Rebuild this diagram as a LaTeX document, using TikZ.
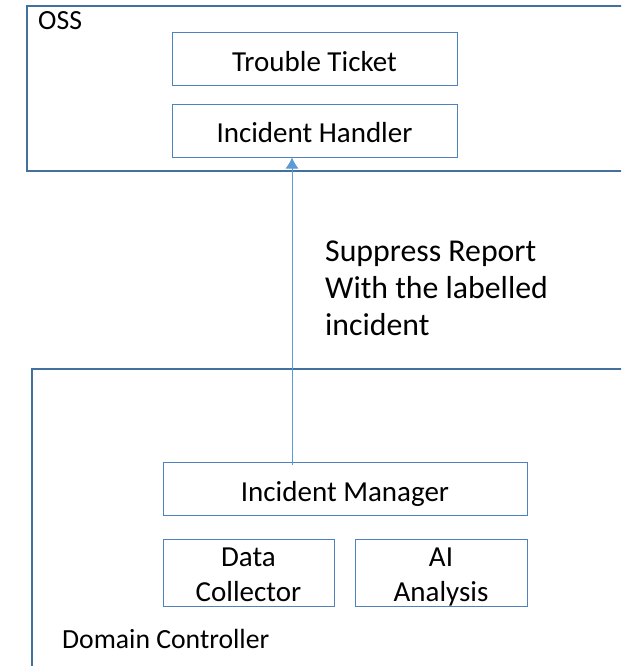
\documentclass[tikz,border=0pt]{standalone}
\usepackage{fontspec}
\setmainfont{Carlito}
\usetikzlibrary{arrows.meta}
\definecolor{outerblue}{HTML}{41719C}
\definecolor{innerblue}{HTML}{4F81BD}
\definecolor{arrowblue}{HTML}{5B9BD5}
\begin{document}
\begin{tikzpicture}[x=1pt,y=-1pt,
  outerbox/.style={draw=outerblue,line width=2.6pt},
  innerbox/.style={draw=innerblue,line width=1pt,fill=white,inner sep=0pt},
  boxtext/.style={anchor=base,inner sep=0pt,font=\fontsize{29}{35}\selectfont},
  lbl/.style={anchor=base west,inner sep=0pt,font=\fontsize{27.7}{33}\selectfont},
  sup/.style={anchor=base west,inner sep=0pt,font=\fontsize{31.8}{37.5}\selectfont},
  conn/.style={draw=arrowblue,line width=0.9pt,-{Latex[length=11pt,width=13pt]}}]
\useasboundingbox (0,0) rectangle (621,666);
\clip (0,0) rectangle (621,666);
\fill[white] (0,0) rectangle (621,666);
% OSS
\draw[outerbox] (27,6) rectangle (660,171);
\node[lbl] (oss) at (38,30) {OSS};
\node[innerbox,minimum width=285pt,minimum height=53pt] (tt) at (314.5,59.5) {};
\node[boxtext] (ttt) at (314.5,72) {Trouble Ticket};
\node[innerbox,minimum width=285pt,minimum height=52pt] (ih) at (314.5,131) {};
\node[boxtext] (iht) at (314.5,142.7) {Incident Handler};
% Domain controller
\draw[outerbox] (32,369) rectangle (660,720);
\node[lbl] (dc) at (62,648.3) {Domain Controller};
\node[innerbox,minimum width=364pt,minimum height=53pt] (im) at (345,488.5) {};
\node[boxtext] (imt) at (345,501.7) {Incident Manager};
\node[innerbox,minimum width=171pt,minimum height=67pt] (dcol) at (248.5,572.5) {};
\node[boxtext] (dcol1) at (248.5,566.7) {Data};
\node[boxtext] (dcol2) at (248.5,601.7) {Collector};
\node[innerbox,minimum width=172pt,minimum height=67pt] (ai) at (441,572.5) {};
\node[boxtext] (ai1) at (441,566.7) {AI};
\node[boxtext] (ai2) at (441,601.7) {Analysis};
% connector
\coordinate (start) at (292,465);
\draw[conn] (start) -- (start |- ih.south);
\node[sup] (sup1) at (325,261) {Suppress Report};
\node[sup] (sup2) at (325,298.5) {With the labelled};
\node[sup] (sup3) at (325,335) {incident};
\end{tikzpicture}
\end{document}
